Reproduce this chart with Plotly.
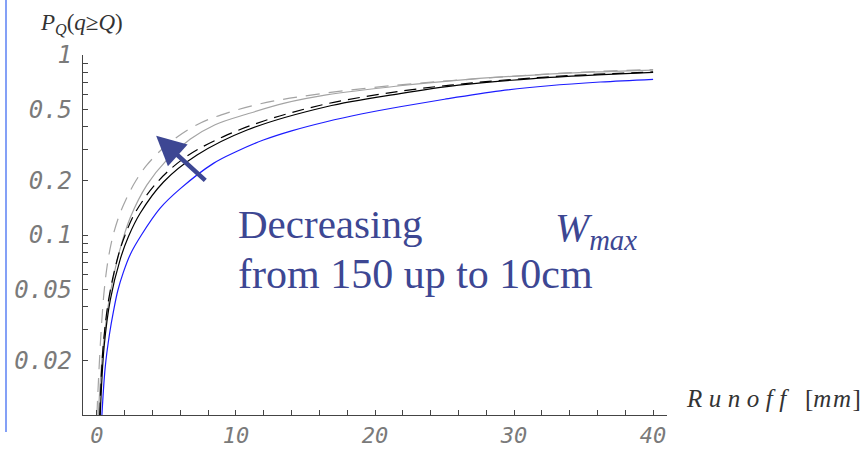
import plotly.graph_objects as go

# ---------------- data ----------------
x_gray_dash = [0.0, 0.12, 0.3, 0.5, 0.72, 0.95, 1.2, 1.6, 2.1, 2.8, 3.6, 5.0, 7.2, 9.5, 12.2, 16.5, 22, 27, 32, 36, 40]
y_gray_dash = [0.0100, 0.016, 0.029, 0.047, 0.066, 0.084, 0.102, 0.128, 0.158, 0.2, 0.245, 0.315, 0.41, 0.48, 0.545, 0.615, 0.685, 0.735, 0.78, 0.81, 0.83]

x_gray_solid = [0.1, 0.4, 0.8, 1.1, 1.6, 2.4, 3.6, 5.0, 6.7, 8.5, 10.8, 13.5, 16.5, 21.8, 26.5, 31.4, 36, 40]
y_gray_solid = [0.0100, 0.022, 0.04, 0.054, 0.08, 0.125, 0.19, 0.26, 0.34, 0.41, 0.47, 0.54, 0.6, 0.675, 0.73, 0.774, 0.805, 0.825]

x_black_dash = [0.2, 0.45, 0.85, 1.5, 2.03, 2.8, 4.43, 6.5, 9.1, 12, 16.5, 22, 27, 32, 36, 40]
y_black_dash = [0.0100, 0.024, 0.044, 0.075, 0.1, 0.135, 0.2, 0.275, 0.352, 0.43, 0.535, 0.632, 0.70, 0.752, 0.782, 0.805]

x_black_solid = [0.24, 0.52, 0.96, 1.67, 2.27, 3.11, 4.79, 7.2, 10.8, 16.5, 21.8, 26, 31.4, 36, 40]
y_black_solid = [0.0100, 0.024, 0.0435, 0.073, 0.098, 0.132, 0.197, 0.278, 0.383, 0.516, 0.61, 0.68, 0.74, 0.775, 0.80]

x_blue = [0.36, 0.6, 0.9, 1.2, 1.5, 1.9, 2.4, 3.2, 4.55, 6.0, 8.38, 10, 11.97, 14, 16.5, 19, 21.8, 25, 29, 32.5, 36.2, 40]
y_blue = [0.0100, 0.0185, 0.028, 0.038, 0.049, 0.062, 0.078, 0.1, 0.141, 0.181, 0.25, 0.29, 0.337, 0.379, 0.426, 0.47, 0.516, 0.568, 0.632, 0.675, 0.708, 0.733]

x_major = [0, 10, 20, 30, 40]
x_major_text = ["0", "10", "20", "30", "40"]
x_minor = [2, 4, 6, 8, 12, 14, 16, 18, 22, 24, 26, 28, 32, 34, 36, 38]

y_major = [0.02, 0.05, 0.1, 0.2, 0.5, 1.0]
y_major_text = ["0.02", "0.05", "0.1", "0.2", "0.5", "1"]
y_minor = [0.01, 0.03, 0.04, 0.06, 0.07, 0.08, 0.09, 0.3, 0.4, 0.6, 0.7, 0.8, 0.9]

# ---------------- figure ----------------
W, H = 864, 450
L, R, T, B = 83, 197, 55, 35
pw, ph = W - L - R, H - T - B

def px(xp):
    return (xp - L) / pw

def py(yp):
    return (H - B - yp) / ph

fig = go.Figure()

series = [
    (x_gray_dash, y_gray_dash, "#a4a4a4", "14px,9px"),
    (x_gray_solid, y_gray_solid, "#a4a4a4", "solid"),
    (x_black_dash, y_black_dash, "#000000", "12px,7px"),
    (x_black_solid, y_black_solid, "#000000", "solid"),
    (x_blue, y_blue, "#1c1cff", "solid"),
]
for xs, ys, col, dash in series:
    fig.add_trace(go.Scatter(x=xs, y=ys, mode="lines",
                             line=dict(color=col, width=1.2, dash=dash, shape="spline", smoothing=1.0),
                             showlegend=False, hoverinfo="skip"))

axis_col = "#444444"
tick_col = "#7a7a7a"
common = dict(ticks="inside", ticklen=5, tickwidth=1, tickcolor=axis_col,
              showline=True, linecolor=axis_col, linewidth=1.3,
              showgrid=False, zeroline=False, automargin=False)

fig.update_xaxes(range=[-1, 41], tickmode="array", tickvals=x_major, ticktext=x_major_text,
                 ticklabelstandoff=0,
                 tickfont=dict(family="DejaVu Sans Mono", size=22, color=tick_col, style="italic"),
                 minor=dict(tickmode="array", tickvals=x_minor, ticks="inside", ticklen=5,
                            tickwidth=1, tickcolor=axis_col, showgrid=False),
                 **common)
fig.update_yaxes(type="log", range=[-2, 0], tickmode="array", tickvals=y_major, ticktext=y_major_text,
                 ticklabelstandoff=5,
                 tickfont=dict(family="DejaVu Sans Mono", size=24, color=tick_col, style="italic"),
                 minor=dict(tickmode="array", tickvals=y_minor, ticks="inside", ticklen=5,
                            tickwidth=1, tickcolor=axis_col, showgrid=False),
                 **common)

text_col = "#3d4793"
serif = "Liberation Serif"

annotations = [
    dict(x=px(38), y=py(24), xref="paper", yref="paper", xanchor="left", yanchor="middle",
         text="<i>P</i><sub><i>Q</i></sub>(<i>q</i>≥<i>Q</i>)", showarrow=False,
         font=dict(family=serif, size=23, color="#333333")),
    dict(x=px(684), y=py(398), xref="paper", yref="paper", xanchor="left", yanchor="middle",
         text="<span style='font-style:italic;letter-spacing:6.5px'>Runoff</span>", showarrow=False,
         font=dict(family=serif, size=25, color="#333333")),
    dict(x=px(803), y=py(398), xref="paper", yref="paper", xanchor="left", yanchor="middle",
         text="[<span style='font-style:italic;letter-spacing:1.5px'>mm</span>]", showarrow=False,
         font=dict(family=serif, size=25, color="#333333")),
    dict(x=px(236), y=py(224), xref="paper", yref="paper", xanchor="left", yanchor="middle",
         text="Decreasing", showarrow=False,
         font=dict(family=serif, size=41, color=text_col)),
    dict(x=px(553), y=py(230), xref="paper", yref="paper", xanchor="left", yanchor="middle",
         text="<i>W</i><sub><i>max</i></sub>", showarrow=False,
         font=dict(family=serif, size=41, color=text_col)),
    dict(x=px(236), y=py(274), xref="paper", yref="paper", xanchor="left", yanchor="middle",
         text="from 150 up to 10cm", showarrow=False,
         font=dict(family=serif, size=42, color=text_col)),
    # arrow
    dict(x=4.26, y=-0.448, ax=7.9, ay=-0.704, xref="x", yref="y", axref="x", ayref="y",
         text="", showarrow=True, arrowhead=2, arrowsize=1.3, arrowwidth=4.5, arrowcolor=text_col),
]

fig.update_layout(
    width=W, height=H, margin=dict(l=L, r=R, t=T, b=B),
    paper_bgcolor="white", plot_bgcolor="white",
    annotations=annotations,
    shapes=[dict(type="line", xref="paper", yref="paper",
                 x0=px(6), x1=px(6), y0=py(0), y1=py(432),
                 line=dict(color="#84a0f6", width=2))],
)

fig.write_html("out.html")
